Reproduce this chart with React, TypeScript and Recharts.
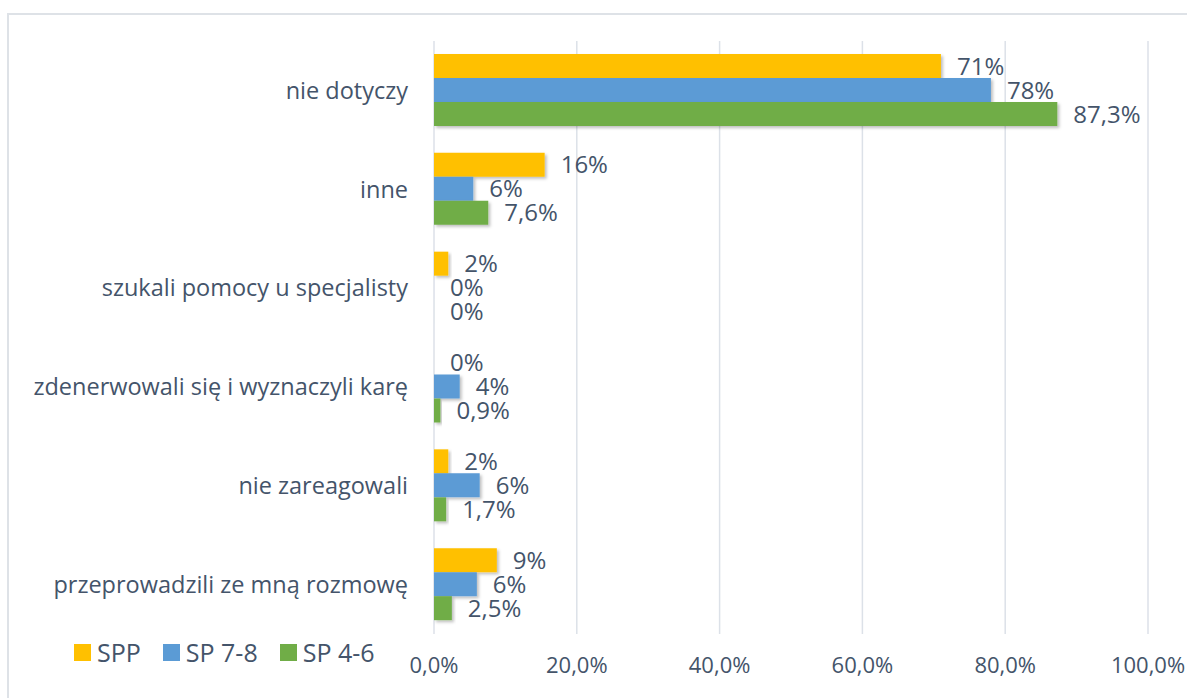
import { BarChart, Bar, XAxis, YAxis, CartesianGrid, LabelList, Legend } from 'recharts';

const categories = [
  'nie dotyczy',
  'inne',
  'szukali pomocy u specjalisty',
  'zdenerwowali się i wyznaczyli karę',
  'nie zareagowali',
  'przeprowadzili ze mną rozmowę',
];
const spp = [71, 15.5, 2, 0, 2, 8.8];
const sp78 = [78, 5.5, 0, 3.6, 6.4, 6];
const sp46 = [87.3, 7.6, 0, 0.9, 1.7, 2.5];
const xTicks = [0, 20, 40, 60, 80, 100];

const series = [
  { key: 'spp', name: 'SPP', color: '#FFC000', decimals: 0 },
  { key: 'sp78', name: 'SP 7-8', color: '#5B9BD5', decimals: 0 },
  { key: 'sp46', name: 'SP 4-6', color: '#70AD47', decimals: 1 },
];

const data = categories.map((name, i) => ({ name, spp: spp[i], sp78: sp78[i], sp46: sp46[i] }));

const TEXT = '#44546A';
const FONT = '"Open Sans", "Noto Sans", sans-serif';

const pct = (v: number, d: number) => (v === 0 ? '0' : v.toFixed(d).replace('.', ',')) + '%';

function LegendBox() {
  return (
    <div style={{ display: 'flex', alignItems: 'center', fontFamily: FONT, fontSize: 25, color: TEXT, lineHeight: '30px' }}>
      {series.map((s) => (
        <div key={s.key} style={{ display: 'flex', alignItems: 'center', marginRight: 22 }}>
          <div style={{ width: 17, height: 17, background: s.color, marginRight: 6 }}></div>
          <span>{s.name}</span>
        </div>
      ))}
    </div>
  );
}

export default function App() {
  return (
    <div style={{ position: 'absolute', left: 0, top: 0, width: 1187, height: 698, background: '#fff', overflow: 'hidden' }}>
      <div
        style={{
          position: 'absolute', left: 7, top: 13, width: 1200, height: 700,
          borderLeft: '2px solid #DEE2E7', borderTop: '2px solid #DEE2E7',
        }}
      ></div>
      <BarChart
        width={1187}
        height={698}
        data={data}
        layout="vertical"
        margin={{ top: 41, right: 39, bottom: 24, left: 0 }}
        barCategoryGap={13}
        barGap={0}
        style={{ position: 'absolute', left: 0, top: 0, fontFamily: FONT }}
      >
        <defs>
          <filter id="barShadow" x="-10%" y="-20%" width="130%" height="160%">
            <feDropShadow dx="2" dy="2" stdDeviation="1.5" floodColor="#000" floodOpacity="0.25" />
          </filter>
        </defs>
        <CartesianGrid horizontal={false} stroke="#DCE1E8" strokeWidth={1.5} />
        <XAxis
          type="number"
          domain={[0, 100]}
          ticks={xTicks}
          tickFormatter={(v: number) => v.toFixed(1).replace('.', ',') + '%'}
          axisLine={false}
          tickLine={false}
          tickSize={0}
          tickMargin={23}
          height={40}
          tick={{ fill: TEXT, fontSize: 22 }}
        />
        <YAxis
          type="category"
          dataKey="name"
          width={434}
          axisLine={false}
          tickLine={false}
          tickSize={0}
          tickMargin={26}
          tick={{ fill: TEXT, fontSize: 23.5 }}
        />
        <Legend
          layout="horizontal"
          verticalAlign="middle"
          align="center"
          wrapperStyle={{ position: 'absolute', left: 74, top: 637, width: 380 }}
          content={() => <LegendBox />}
        />
        {series.map((s) => (
          <Bar
            key={s.key}
            dataKey={s.key}
            name={s.name}
            fill={s.color}
            minPointSize={0.01}
            isAnimationActive={false}
            filter="url(#barShadow)"
          >
            <LabelList
              dataKey={s.key}
              position="right"
              offset={16}
              formatter={(v: number) => pct(v, s.decimals)}
              style={{ fill: TEXT, fontSize: 24, filter: 'none' }}
            />
          </Bar>
        ))}
      </BarChart>
    </div>
  );
}
